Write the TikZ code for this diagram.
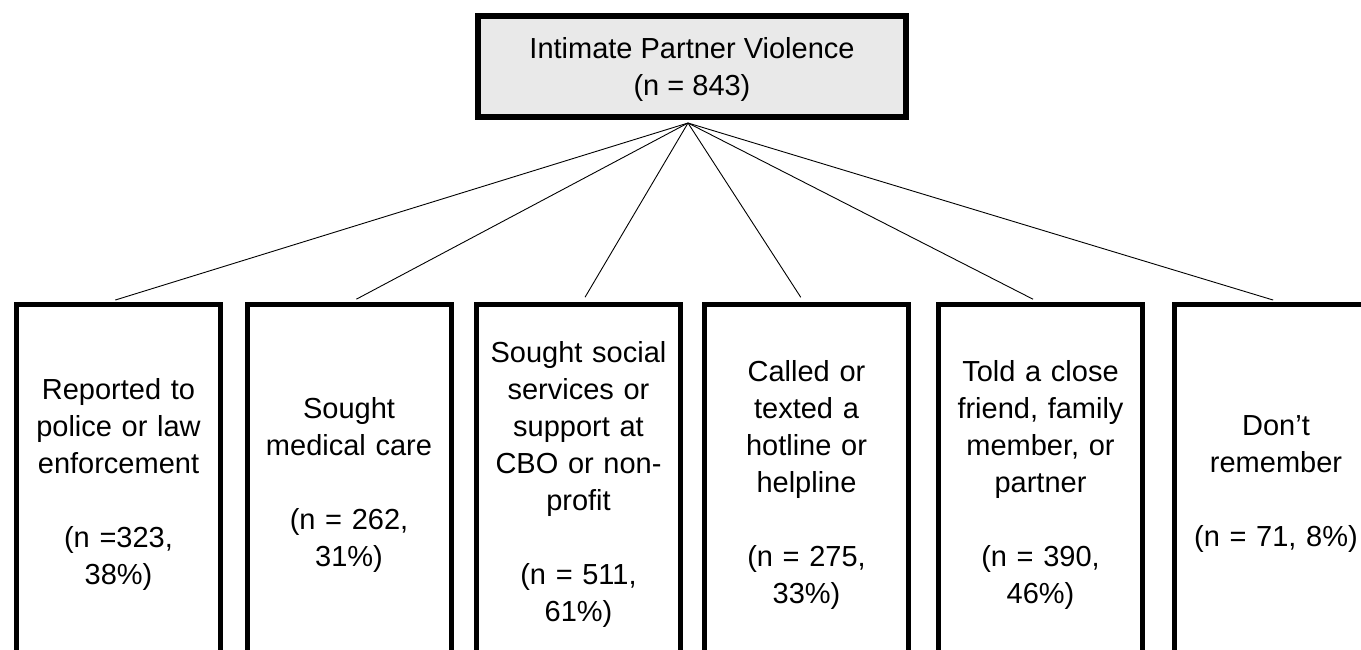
\documentclass[tikz,border=0pt]{standalone}
\usepackage{fontspec}
\setmainfont{Liberation Sans}
\usetikzlibrary{calc}
\definecolor{topfill}{RGB}{233,233,233}
\begin{document}
\begin{tikzpicture}[x=1pt,y=-1pt,
  topbox/.style={draw=black, fill=topfill, line width=6pt, minimum width=428pt, minimum height=101pt, inner sep=0pt, align=center, font=\fontsize{29}{37}\selectfont},
  leafbox/.style={draw=black, fill=white, line width=5pt, anchor=north, minimum width=204pt, minimum height=361pt, inner sep=0pt, text width=200pt, align=center, font=\fontsize{29}{37}\selectfont},
  link/.style={draw=black, line width=0.9pt, shorten >=5pt}]
\path[use as bounding box] (0,0) rectangle (1361,649);
\clip (0,0) rectangle (1361,649);
\node[topbox] (top) at (692,66.5) {\rule{0pt}{27pt}Intimate Partner Violence\\(n = 843)};
\node[leafbox] (b1) at (118.5,301.5) {Reported to\\police or law\\enforcement\\[37pt](n =323,\\38\%)};
\node[leafbox] (b2) at (349,301.5) {Sought\\medical care\\[37pt](n = 262,\\31\%)};
\node[leafbox] (b3) at (578.5,301.5) {Sought social\\services or\\support at\\CBO or non-\\profit\\[37pt](n = 511,\\61\%)};
\node[leafbox] (b4) at (806.5,301.5) {Called or\\texted a\\hotline or\\helpline\\[37pt](n = 275,\\33\%)};
\node[leafbox] (b5) at (1040.5,301.5) {Told a close\\friend, family\\member, or\\partner\\[37pt](n = 390,\\46\%)};
\node[leafbox] (b6) at (1276,301.5) {Don’t\\remember\\[37pt](n = 71, 8\%)};
\coordinate (hub) at ([xshift=-4pt,yshift=-3pt]top.south);
\draw[link] (hub) -- ([xshift=-8pt]b1.north);
\draw[link] (hub) -- ([xshift=3pt]b2.north);
\draw[link] (hub) -- ([xshift=4pt]b3.north);
\draw[link] (hub) -- ([xshift=-3pt]b4.north);
\draw[link] (hub) -- ([xshift=-3pt]b5.north);
\draw[link] (hub) -- ([xshift=2pt]b6.north);
\end{tikzpicture}
\end{document}
